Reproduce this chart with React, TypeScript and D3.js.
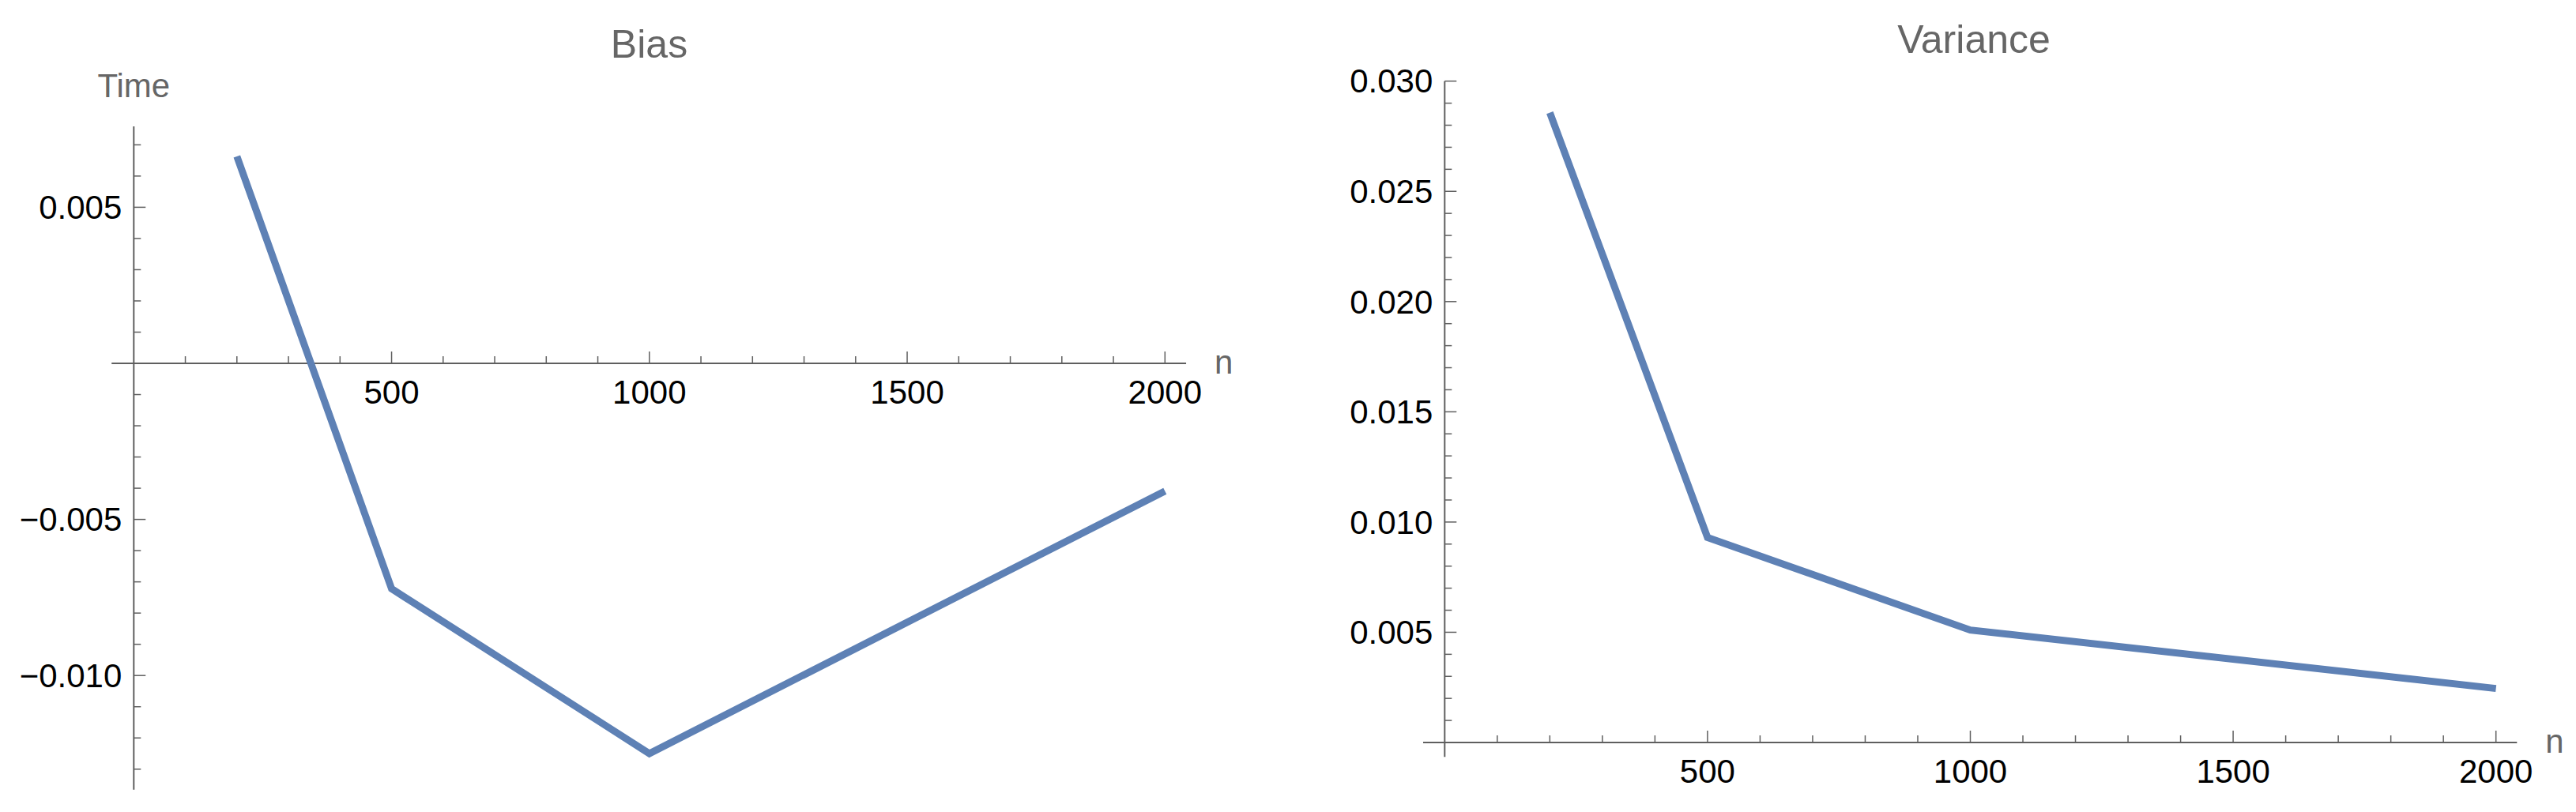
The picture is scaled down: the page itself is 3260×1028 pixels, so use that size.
import React from "react";
import * as d3 from "d3";

// ---- data ----
const sampleSizes = [200, 500, 1000, 2000];
const biasValues = [0.00663, -0.00722, -0.0125, -0.00409];
const varianceValues = [0.02857, 0.0093, 0.0051, 0.00245];

const xMajorTicks = [500, 1000, 1500, 2000];
const xTickLabels = ["500", "1000", "1500", "2000"];
const biasMajorTicks = [0.005, -0.005, -0.01];
const biasTickLabels = ["0.005", "\u22120.005", "\u22120.010"];
const varianceMajorTicks = [0.005, 0.01, 0.015, 0.02, 0.025, 0.03];
const varianceTickLabels = ["0.005", "0.010", "0.015", "0.020", "0.025", "0.030"];

const titles = ["Bias", "Variance"];
const xAxisLabel = "n";
const yAxisLabel = "Time";

// ---- styles ----
const LINE_COLOR = "#5e81b5";
const AXIS_COLOR = "#5f5f5f";
const LABEL_GRAY = "#666666";
const FONT = "'Liberation Sans', Arial, sans-serif";
const TICK_FONT = 42;
const TITLE_FONT = 50;

type PanelProps = {
  xRange: [number, number];
  yDomain: [number, number];
  yRange: [number, number];
  xExtent: [number, number];
  yExtent: [number, number];
  values: number[];
  minorY: number[];
  majorY: number[];
  yLabels: string[];
  title: string;
  titleX: number;
  titleY: number;
  showYLabel: boolean;
};

function Panel(p: PanelProps) {
  const x = d3.scaleLinear().domain([0, 2000]).range(p.xRange);
  const y = d3.scaleLinear().domain(p.yDomain).range(p.yRange);
  const x0 = x(0);
  const y0 = y(0);
  const minorX = d3.range(100, 2001, 100).filter((v) => v % 500 !== 0);
  const pts = sampleSizes.map((n, i) => [n, p.values[i]] as [number, number]);
  const line = d3
    .line<[number, number]>()
    .x((d) => x(d[0]))
    .y((d) => y(d[1]));
  const xEnd = x(p.xExtent[1]);
  return (
    <g>
      <text
        x={p.titleX}
        y={p.titleY}
        textAnchor="middle"
        fontFamily={FONT}
        fontSize={TITLE_FONT}
        fill={LABEL_GRAY}
      >
        {p.title}
      </text>
      {/* axes */}
      <line x1={x(p.xExtent[0])} x2={xEnd} y1={y0} y2={y0} stroke={AXIS_COLOR} strokeWidth={2} />
      <line x1={x0} x2={x0} y1={y(p.yExtent[0])} y2={y(p.yExtent[1])} stroke={AXIS_COLOR} strokeWidth={2} />
      {/* x ticks */}
      {minorX.map((v) => (
        <line key={"mx" + v} x1={x(v)} x2={x(v)} y1={y0} y2={y0 - 9} stroke={AXIS_COLOR} strokeWidth={1.5} />
      ))}
      {xMajorTicks.map((v, i) => (
        <g key={"Mx" + v}>
          <line x1={x(v)} x2={x(v)} y1={y0} y2={y0 - 15} stroke={AXIS_COLOR} strokeWidth={1.5} />
          <text
            x={x(v)}
            y={y0 + 51}
            textAnchor="middle"
            fontFamily={FONT}
            fontSize={TICK_FONT}
            fill="#000"
          >
            {xTickLabels[i]}
          </text>
        </g>
      ))}
      {/* y ticks */}
      {p.minorY.map((v) => (
        <line key={"my" + v} x1={x0} x2={x0 + 9} y1={y(v)} y2={y(v)} stroke={AXIS_COLOR} strokeWidth={1.5} />
      ))}
      {p.majorY.map((v, i) => (
        <g key={"My" + v}>
          <line x1={x0} x2={x0 + 15} y1={y(v)} y2={y(v)} stroke={AXIS_COLOR} strokeWidth={1.5} />
          <text
            x={x0 - 15}
            y={y(v)}
            dy="0.35em"
            textAnchor="end"
            fontFamily={FONT}
            fontSize={TICK_FONT}
            fill="#000"
          >
            {p.yLabels[i]}
          </text>
        </g>
      ))}
      {/* axis labels */}
      <text x={xEnd + 36} y={y0 + 13} fontFamily={FONT} fontSize={TICK_FONT} fill={LABEL_GRAY}>
        {xAxisLabel}
      </text>
      {p.showYLabel && (
        <text x={x0} y={123} textAnchor="middle" fontFamily={FONT} fontSize={TICK_FONT} fill={LABEL_GRAY}>
          {yAxisLabel}
        </text>
      )}
      <path d={line(pts) || ""} fill="none" stroke={LINE_COLOR} strokeWidth={9} strokeLinejoin="miter" />
    </g>
  );
}

export default function App() {
  const biasMinor = d3.range(-13, 8).filter((k) => k !== 0 && k % 5 !== 0).map((k) => k / 1000);
  const varMinor = d3.range(1, 31).filter((k) => k % 5 !== 0).map((k) => k / 1000);
  return (
    <svg
      width={3260}
      height={1028}
      style={{ position: "absolute", left: 0, top: 0, background: "#fff" }}
    >
      <rect width={3260} height={1028} fill="#fff" />
      <Panel
        xRange={[169.3, 1474.3]}
        yDomain={[0.005, -0.01]}
        yRange={[262.4, 855.2]}
        xExtent={[-43, 2041]}
        yExtent={[0.00759, -0.01366]}
        values={biasValues}
        minorY={biasMinor}
        majorY={biasMajorTicks}
        yLabels={biasTickLabels}
        title={titles[0]}
        titleX={821.5}
        titleY={73}
        showYLabel={true}
      />
      <Panel
        xRange={[1828.3, 3158.7]}
        yDomain={[0, 0.03]}
        yRange={[940, 102.7]}
        xExtent={[-41, 2040]}
        yExtent={[0.03, -0.00065]}
        values={varianceValues}
        minorY={varMinor}
        majorY={varianceMajorTicks}
        yLabels={varianceTickLabels}
        title={titles[1]}
        titleX={2498}
        titleY={67}
        showYLabel={false}
      />
    </svg>
  );
}
